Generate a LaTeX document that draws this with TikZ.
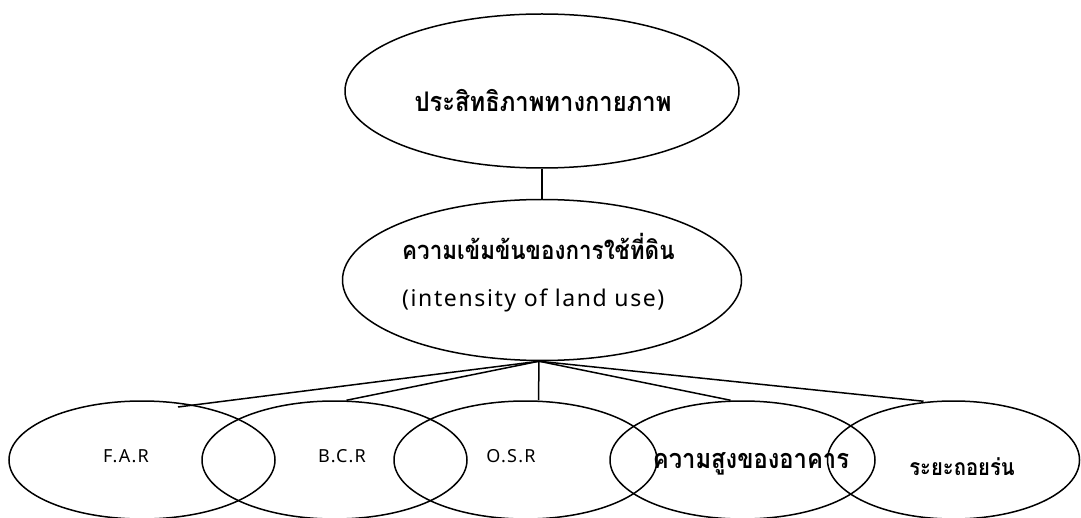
\documentclass[tikz,border=0pt]{standalone}
\usepackage{fontspec}
\setmainfont[LetterSpace=7]{Noto Sans}
\newfontfamily\thai[Script=Thai,FakeStretch=0.88]{Loma}
\usetikzlibrary{shapes.geometric,calc}
\begin{document}
\begin{tikzpicture}[x=1pt,y=-1pt,
  oval/.style={draw,ellipse,line width=1.5pt,inner sep=0pt},
  link/.style={line width=1.5pt},
  lbl/.style={inner sep=0pt}]
\useasboundingbox (0,0) rectangle (1081,518);
% top level
\node[oval,minimum width=394pt,minimum height=154pt] (top) at (542,91) {};
\node[lbl,anchor=base] (topt) at (543,112) {\fontsize{27}{30}\selectfont\thai\bfseries ประสิทธิภาพทางกายภาพ};
% middle level
\node[oval,minimum width=399pt,minimum height=161pt] (mid) at (542,280) {};
\node[lbl,anchor=base west] (midt1) at (402,260) {\fontsize{25.5}{30}\selectfont\thai\bfseries ความเข้มข้นของการใช้ที่ดิน};
\node[lbl,anchor=base west] (midt2) at (402,307) {\fontsize{23}{26}\selectfont (intensity of land use)};
% bottom level
\node[oval,minimum width=266pt,minimum height=118pt] (far) at (142,460) {};
\node[oval,minimum width=265pt,minimum height=118pt] (bcr) at (334.5,460) {};
\node[oval,minimum width=263pt,minimum height=118pt] (osr) at (525.5,460) {};
\node[oval,minimum width=265pt,minimum height=118pt] (hgt) at (742.5,460) {};
\node[oval,minimum width=252pt,minimum height=118pt] (sbk) at (953.5,460) {};
\node[lbl,anchor=base] (fart) at (126,462) {\fontsize{18}{20}\selectfont F.A.R};
\node[lbl,anchor=base] (bcrt) at (342,462) {\fontsize{18}{20}\selectfont B.C.R};
\node[lbl,anchor=base] (osrt) at (511,462) {\fontsize{18}{20}\selectfont O.S.R};
\node[lbl,anchor=base] (hgtt) at (751,468) {\fontsize{27}{30}\selectfont\thai\bfseries ความสูงของอาคาร};
\node[lbl,anchor=base] (sbkt) at (962,475) {\fontsize{23}{26}\selectfont\thai\bfseries ระยะถอยร่น};
% connectors
\draw[link] (top.south) -- (mid.north);
\coordinate (hub) at ($(mid.south)+(-3,0)$);
\draw[link] (hub) -- ($(far.center)+(36,-53)$);
\draw[link] (hub) -- ($(bcr.north)+(12,0)$);
\draw[link] (hub) -- ($(osr.north)+(13,0)$);
\draw[link] (hub) -- ($(hgt.north)+(-12,0)$);
\draw[link] (hub) -- ($(sbk.north)+(-30,1)$);
\end{tikzpicture}
\end{document}
